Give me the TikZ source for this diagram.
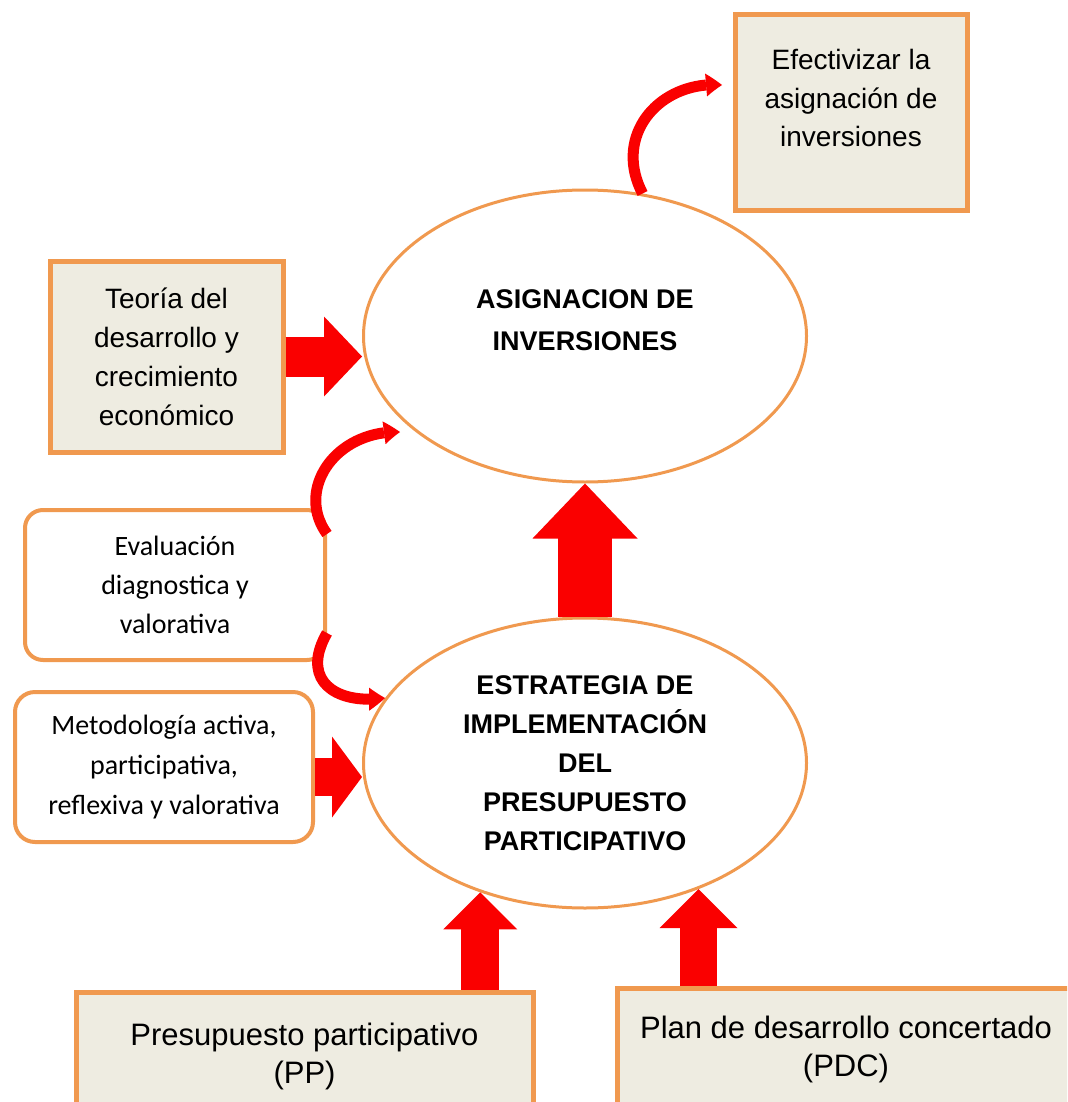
\documentclass[tikz,border=0pt]{standalone}
\usepackage{fontspec}
\setmainfont{Liberation Sans}
\newfontfamily\calfont{Carlito}
\usetikzlibrary{arrows.meta,bending,positioning,shapes.geometric}

\definecolor{boxorange}{HTML}{F0994F}
\definecolor{boxbeige}{HTML}{EEECE1}
\definecolor{arrowred}{HTML}{FA0000}

\begin{document}
\begin{tikzpicture}[
        x=0.5pt, y=-0.5pt,
        sqbox/.style={rectangle, draw=boxorange, line width=2.5pt, fill=boxbeige, align=center, inner sep=0pt},
        rndbox/.style={rectangle, rounded corners=9pt, draw=boxorange, line width=2pt, fill=white, align=center, inner sep=0pt, font=\calfont\fontsize{14}{19.5}\selectfont},
        oval/.style={ellipse, draw=boxorange, line width=1.5pt, fill=white, align=center, inner sep=0pt, minimum width=221.5pt, minimum height=146pt, font=\bfseries\fontsize{13.5}{19.5}\selectfont},
        block/.style n args={3}{draw=arrowred, line width=#1, shorten >=#2-2pt,
            postaction={draw=arrowred, line width=#1, shorten >=0pt, -{Triangle[length=#2, width=#3, line width=0pt]}}},
        curvedarrow/.style={draw=arrowred, line width=5.5pt, -{Triangle[length=8pt, width=11.5pt, line width=0pt, bend]}}
    ]
        \useasboundingbox (0,0) rectangle (1067,1102);
        \clip (0,0) rectangle (1067,1102);
        \fill[white] (0,0) rectangle (1067,1102);

        % Top part
        \node[sqbox, minimum width=116pt, minimum height=97.5pt] (efect) at (851,112.5) {};
        \node[font=\fontsize{14}{19.25}\selectfont, align=center] (efecttxt) at (851,98) {Efectivizar la\\asignación de\\inversiones};

        \node[sqbox, minimum width=116.5pt, minimum height=95.5pt, font=\fontsize{14}{19.5}\selectfont] (teoria) at (166.5,356.5) {Teoría del\\desarrollo y\\crecimiento\\económico};

        \node[oval] (asig) at (585,336) {};
        \node[font=\bfseries\fontsize{13.5}{21}\selectfont, align=center] (asigtxt) at (585,320) {ASIGNACION DE\\INVERSIONES};

        % Middle part
        \node[rndbox, minimum width=150pt, minimum height=75pt] (eval) at (175,585) {Evaluación\\diagnostica y\\valorativa};

        \node[rndbox, rounded corners=10pt, minimum width=149pt, minimum height=75pt, font=\calfont\fontsize{14}{20}\selectfont] (metod) at (164,767) {Metodología activa,\\participativa,\\reflexiva y valorativa};

        \node[oval, minimum height=145pt] (estr) at (585,763) {ESTRATEGIA DE\\IMPLEMENTACIÓN\\DEL\\PRESUPUESTO\\PARTICIPATIVO};

        % Bottom boxes
        \node[sqbox, minimum width=228.5pt, minimum height=64pt, font=\fontsize{15.5}{19}\selectfont] (pp) at (304.5,1056) {Presupuesto participativo\\(PP)};
        \node[sqbox, minimum width=229pt, minimum height=61pt, font=\fontsize{15.5}{19}\selectfont] (pdc) at (846,1049) {Plan de desarrollo concertado\\(PDC)};

        % Block arrows
        \draw[block={20pt}{19pt}{40pt}] (teoria.east) -- (teoria.east -| asig.west);
        \draw[block={19pt}{15pt}{40.5pt}] ([yshift=-5pt]metod.east) -- ([yshift=-5pt]metod.east -| estr.west);
        \draw[block={27pt}{27.5pt}{52.5pt}] (estr.north) -- (asig.south);
        \draw[block={19pt}{18.5pt}{37pt}] (estr.231 |- pp.north) -- (estr.231);
        \draw[block={18.5pt}{19.5pt}{39pt}] (estr.312 |- pdc.north) -- (estr.312);

        % Curved arrows
        \coordinate (efectin) at (722,85);
        \coordinate (asigin) at (400,432);
        \draw[curvedarrow] (asig.68) .. controls (612,135) and (660,80) .. (efectin);
        \draw[curvedarrow] ([yshift=-13pt]eval.north east) .. controls (295,490) and (335,430) .. (asigin);
        \draw[curvedarrow] ([yshift=-24pt]eval.east) .. controls (300,680) and (335,705) .. (estr.162);

    \end{tikzpicture}
\end{document}
